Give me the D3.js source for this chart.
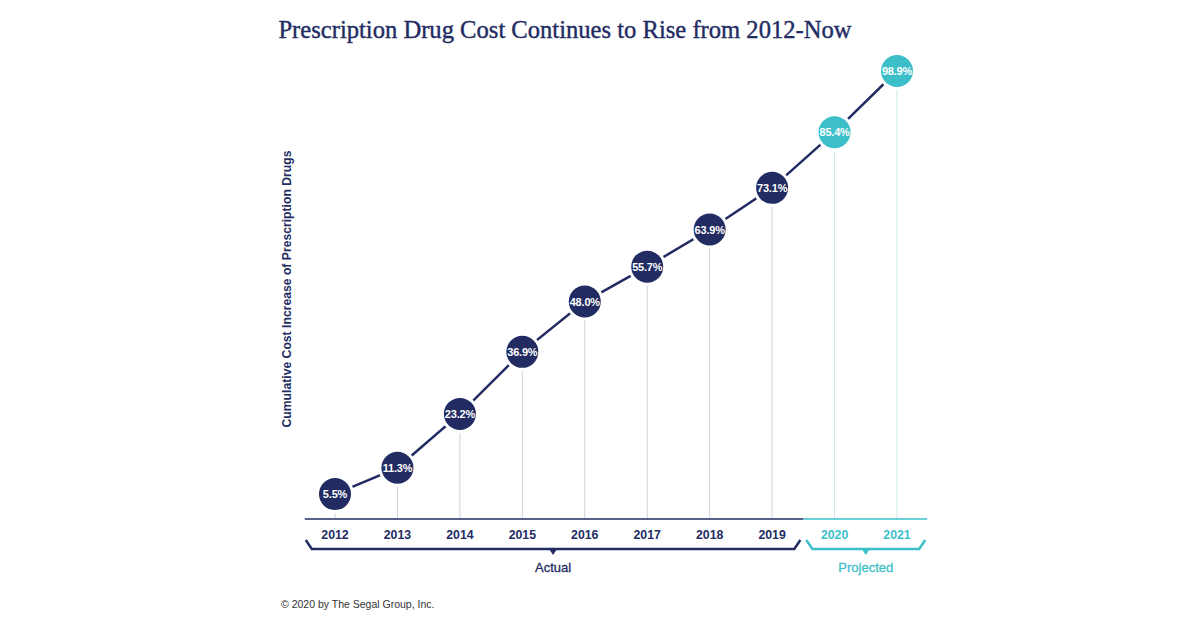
<!DOCTYPE html>
<html>
<head>
<meta charset="utf-8">
<script src="https://cdn.jsdelivr.net/npm/d3@7"></script>
<style>
html,body{margin:0;padding:0;background:#fff;}
svg{display:block;}
</style>
</head>
<body>
<svg id="chart" width="1200" height="627"></svg>
<script>
const years = ["2012","2013","2014","2015","2016","2017","2018","2019","2020","2021"];
const values = [5.5, 11.3, 23.2, 36.9, 48.0, 55.7, 63.9, 73.1, 85.4, 98.9];
const projected = [false,false,false,false,false,false,false,false,true,true];
const groups = [
  {label:"Actual", from:"2012", to:"2019", proj:false},
  {label:"Projected", from:"2020", to:"2021", proj:true}
];

const NAVY = "#222c62", TEAL = "#3dbfca";
const svg = d3.select("#chart");

const x = d3.scalePoint().domain(years).range([335, 897]);
const y = d3.scaleLinear().domain([0, 100]).range([519, 66]);
const step = x.step();

// title
svg.append("text").attr("x", 565).attr("y", 38).attr("text-anchor","middle")
  .attr("font-family","'Liberation Serif','DejaVu Serif',serif").attr("font-size",24.6)
  .attr("fill", NAVY).attr("stroke", NAVY).attr("stroke-width", 0.4)
  .text("Prescription Drug Cost Continues to Rise from 2012-Now");

// y label
svg.append("text").attr("transform","translate(291,289) rotate(-90)").attr("text-anchor","middle")
  .attr("font-family","'Liberation Sans',Arial,sans-serif").attr("font-size",12.2).attr("font-weight","bold")
  .attr("fill", NAVY).text("Cumulative Cost Increase of Prescription Drugs");

// drop lines
svg.append("g").selectAll("line").data(years).join("line")
  .attr("x1", d=>x(d)).attr("x2", d=>x(d))
  .attr("y1", (d,i)=>y(values[i])).attr("y2", y(0))
  .attr("stroke", (d,i)=>projected[i] ? "#cdeaee" : "#cfd3df").attr("stroke-width",1);

// axis baseline
const split = (x("2019")+x("2020"))/2;
svg.append("line").attr("x1", x("2012")-step/2+1).attr("x2", split).attr("y1", y(0)).attr("y2", y(0))
  .attr("stroke", NAVY).attr("stroke-width", 1.5);
svg.append("line").attr("x1", split).attr("x2", x("2021")+step/2-1).attr("y1", y(0)).attr("y2", y(0))
  .attr("stroke", TEAL).attr("stroke-width", 1.5);

// year labels
svg.append("g").selectAll("text").data(years).join("text")
  .attr("x", d=>x(d)).attr("y", 539).attr("text-anchor","middle")
  .attr("font-family","'Liberation Sans',Arial,sans-serif").attr("font-size",12.3).attr("font-weight","bold")
  .attr("fill", (d,i)=>projected[i] ? TEAL : NAVY).text(d=>d);

// brackets
groups.forEach(g=>{
  const x0 = x(g.from)-step/2+ (g.proj ? 3 : 2);
  const x1 = x(g.to)+step/2- (g.proj ? 3 : 3);
  const col = g.proj ? TEAL : NAVY;
  const top = 540, bot = 549, cx = (x0+x1)/2;
  svg.append("path").attr("d", `M${x0},${top} L${x0+6},${bot} L${x1-6},${bot} L${x1},${top}`)
    .attr("fill","none").attr("stroke", col).attr("stroke-width",2.5).attr("stroke-linejoin","miter");
  svg.append("path").attr("d", `M${cx-4},${bot} L${cx+4},${bot} L${cx},${bot+6} Z`).attr("fill", col);
  svg.append("text").attr("x", cx).attr("y", 572).attr("text-anchor","middle")
    .attr("font-family","'Liberation Sans',Arial,sans-serif").attr("font-size",13)
    .attr("fill", col).attr("stroke", col).attr("stroke-width", 0.3).text(g.label);
});

// connecting line
const line = d3.line().x(d=>x(d.year)).y(d=>y(d.v));
const pts = years.map((yr,i)=>({year:yr, v:values[i]}));
svg.append("path").datum(pts).attr("d", line).attr("fill","none")
  .attr("stroke", NAVY).attr("stroke-width", 2.5);

// circles
const R = 16;
const node = svg.append("g").selectAll("g").data(pts).join("g")
  .attr("transform", d=>`translate(${x(d.year)},${y(d.v)})`);
node.append("circle").attr("r", R+3).attr("fill","#fff");
node.append("circle").attr("r", R).attr("fill", (d,i)=>projected[i] ? TEAL : NAVY);
node.append("text").attr("text-anchor","middle").attr("dy","0.36em")
  .attr("font-family","'Liberation Sans',Arial,sans-serif").attr("font-size",11).attr("font-weight","bold")
  .attr("fill","#fff").attr("letter-spacing","-0.2").text(d=>d.v.toFixed(1)+"%");

// footer
svg.append("text").attr("x", 281).attr("y", 608)
  .attr("font-family","'Liberation Sans',Arial,sans-serif").attr("font-size",10.5)
  .attr("fill", "#333").text("© 2020 by The Segal Group, Inc.");
</script>
</body>
</html>
